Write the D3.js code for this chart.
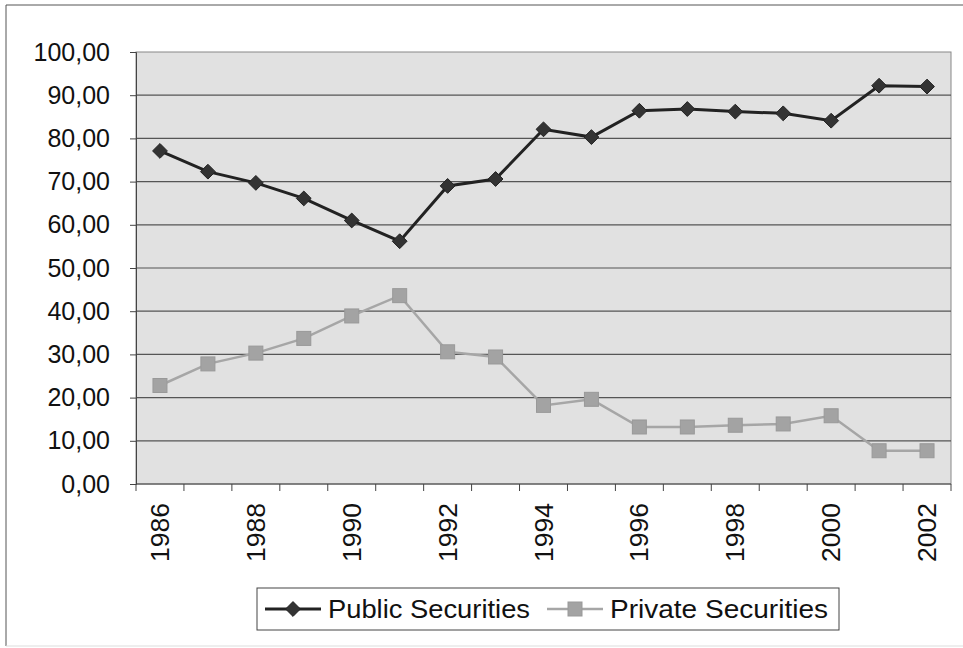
<!DOCTYPE html>
<html>
<head>
<meta charset="utf-8">
<script src="https://cdn.jsdelivr.net/npm/d3@7"></script>
<style>
body { margin:0; background:#fff; }
text { font-family: "Liberation Sans", Arial, sans-serif; fill:#111; }
</style>
</head>
<body>
<script>
var years = [1986,1987,1988,1989,1990,1991,1992,1993,1994,1995,1996,1997,1998,1999,2000,2001,2002]
var publicSec = [77.1,72.3,69.7,66.1,61.0,56.2,69.0,70.6,82.1,80.3,86.4,86.8,86.2,85.8,84.1,92.2,92.0]
var privateSec = [22.8,27.8,30.3,33.7,38.9,43.6,30.6,29.4,18.2,19.6,13.2,13.2,13.6,13.9,15.8,7.7,7.7]
var yTicks = [0,10,20,30,40,50,60,70,80,90,100]
var labelYears = [1986,1988,1990,1992,1994,1996,1998,2000,2002]

var W = 963, H = 648
var margin = {top:52, right:12, bottom:164, left:136}
var pw = W - margin.left - margin.right,
	ph = H - margin.top - margin.bottom

var svg = d3.select('body').append('svg')
	.attr('width', W).attr('height', H)

// outer chart border
svg.append('line').attr('x1',6).attr('y1',5).attr('x2',W).attr('y2',5).attr('stroke','#555')
svg.append('line').attr('x1',6).attr('y1',5).attr('x2',6).attr('y2',646).attr('stroke','#555')
svg.append('line').attr('x1',6).attr('y1',646).attr('x2',W).attr('y2',646).attr('stroke','#ddd')

var x = d3.scaleBand().domain(years).range([0,pw])
var y = d3.scaleLinear().domain([0,100]).range([ph,0])

var g = svg.append('g').attr('transform','translate('+margin.left+','+margin.top+')')

g.append('rect').attr('width',pw).attr('height',ph)
	.attr('fill','#e1e1e1').attr('stroke','#888')

g.selectAll('.grid').data(yTicks.slice(1,-1)).enter()
	.append('line').classed('grid',true)
	.attr('x1',0).attr('x2',pw)
	.attr('y1',function(d){ return y(d) }).attr('y2',function(d){ return y(d) })
	.attr('stroke','#555').attr('stroke-width',1.2)

// y axis
var yAxis = g.append('g')
	.call(d3.axisLeft(y).tickValues(yTicks).tickSize(6).tickPadding(20)
		.tickFormat(function(d){ return d3.format('.2f')(d).replace('.',',') }))
yAxis.select('.domain').attr('stroke','#444')
yAxis.selectAll('.tick line').attr('stroke','#444')
yAxis.selectAll('text').style('font-size','25px').attr('fill','#111')

// x axis: ticks between categories
var xb = g.append('g').attr('transform','translate(0,'+ph+')')
xb.append('line').attr('x1',0).attr('x2',pw).attr('stroke','#444')
xb.selectAll('.xt').data(years.concat([null])).enter()
	.append('line').classed('xt',true)
	.attr('x1',function(d,i){ return i*x.step() }).attr('x2',function(d,i){ return i*x.step() })
	.attr('y1',0).attr('y2',7).attr('stroke','#444')
xb.selectAll('.xl').data(labelYears).enter()
	.append('text').classed('xl',true)
	.attr('transform',function(d){ return 'translate('+(x(d)+x.bandwidth()/2+9)+',19) rotate(-90)' })
	.attr('text-anchor','end')
	.style('font-size','26.5px')
	.text(function(d){ return d })

var cx = function(d,i){ return x(years[i]) + x.bandwidth()/2 }

var line = d3.line().x(cx).y(function(d){ return y(d) })

g.append('path').datum(privateSec).attr('d',line)
	.attr('fill','none').attr('stroke','#a6a6a6').attr('stroke-width',2.5)
g.selectAll('.priv').data(privateSec).enter()
	.append('rect').classed('priv',true)
	.attr('x',function(d,i){ return cx(d,i)-7 }).attr('y',function(d){ return y(d)-7 })
	.attr('width',14).attr('height',14)
	.attr('fill','#a3a3a3').attr('stroke','#999')

g.append('path').datum(publicSec).attr('d',line)
	.attr('fill','none').attr('stroke','#222').attr('stroke-width',3)
var diamond = d3.symbol().type(d3.symbolDiamond2).size(140)
g.selectAll('.pub').data(publicSec).enter()
	.append('path').classed('pub',true)
	.attr('transform',function(d,i){ return 'translate('+cx(d,i)+','+y(d)+')' })
	.attr('d',diamond)
	.attr('fill','#333').attr('stroke','#222')

// legend
var lg = svg.append('g')
lg.append('rect').attr('x',257).attr('y',588).attr('width',582).attr('height',42)
	.attr('fill','#fff').attr('stroke','#444')
var legendItems = [
	{name:'Public Securities', x0:265, color:'#222', sw:3},
	{name:'Private Securities', x0:547, color:'#a6a6a6', sw:2.5}
]
legendItems.forEach(function(it, k){
	lg.append('line').attr('x1',it.x0).attr('x2',it.x0+56).attr('y1',609).attr('y2',609)
		.attr('stroke',it.color).attr('stroke-width',it.sw)
	if(k===0){
		lg.append('path').attr('transform','translate('+(it.x0+28)+',609)').attr('d',diamond)
			.attr('fill','#333').attr('stroke','#222')
	} else {
		lg.append('rect').attr('x',it.x0+21).attr('y',602).attr('width',14).attr('height',14)
			.attr('fill','#a3a3a3').attr('stroke','#999')
	}
	lg.append('text').attr('x',it.x0+63).attr('y',618).style('font-size','26px')
		.attr('textLength', k===0 ? 202 : 218).attr('lengthAdjust','spacingAndGlyphs')
		.text(it.name)
})
</script>
</body>
</html>
